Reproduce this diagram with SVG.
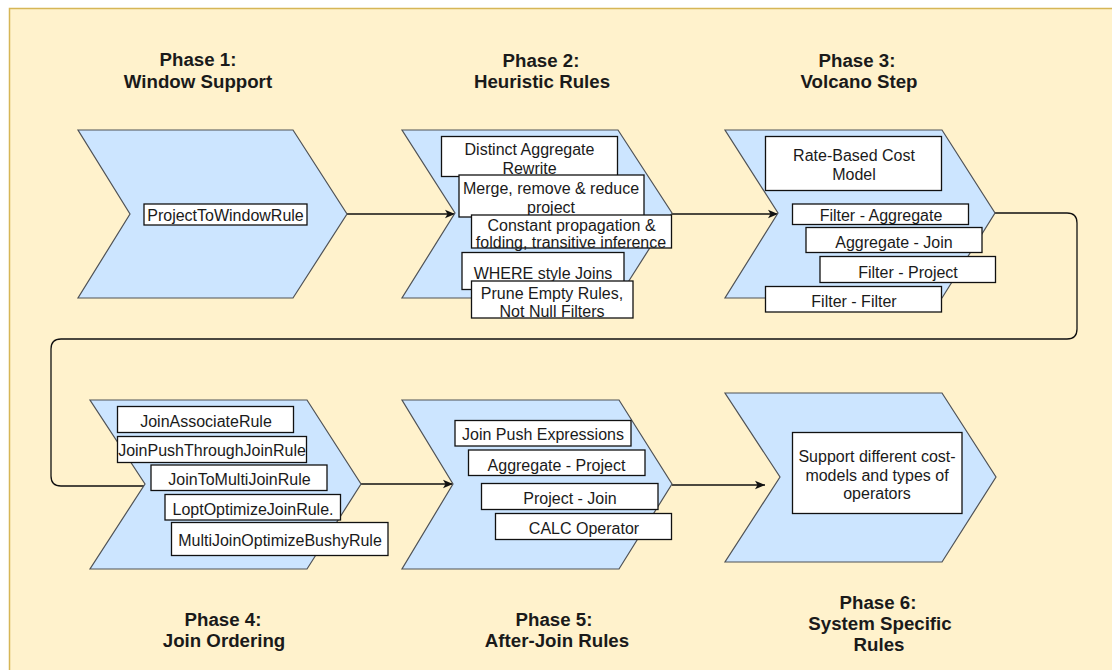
<svg xmlns="http://www.w3.org/2000/svg" width="1112" height="670" viewBox="0 0 1112 670">
  <style>
    .step { fill: #cce5ff; stroke: #4f5256; stroke-width: 1.2; }
    .box { fill: #ffffff; stroke: #111111; stroke-width: 1.3; }
    .rule { font-family: "Liberation Sans", Arial, sans-serif; font-size: 16px; fill: #1a1a1a; text-anchor: middle; }
    .title { font-family: "Liberation Sans", Arial, sans-serif; font-size: 18.7px; font-weight: bold; fill: #1a1a1a; text-anchor: middle; }
    .link { fill: none; stroke: #111111; stroke-width: 1.3; }
  </style>
  <defs>
    <marker id="arrow" markerWidth="11" markerHeight="11" refX="10" refY="5" orient="auto" markerUnits="userSpaceOnUse">
      <path d="M0,0.8 L10,5 L0,9.2 L2.5,5 z" fill="#111111"/>
    </marker>
  </defs>

  <!-- canvas -->
  <rect x="9.5" y="8.5" width="1110" height="670" fill="#fff2cc" stroke="#d6b656" stroke-width="1.5"/>

  <!-- phase titles -->
  <g id="titles">
    <text class="title" x="198" y="66">Phase 1:</text>
    <text class="title" x="198" y="88">Window Support</text>
    <text class="title" x="541" y="66.5">Phase 2:</text>
    <text class="title" x="542" y="88">Heuristic Rules</text>
    <text class="title" x="857" y="66.5">Phase 3:</text>
    <text class="title" x="859" y="88">Volcano Step</text>
    <text class="title" x="223" y="626">Phase 4:</text>
    <text class="title" x="224" y="647">Join Ordering</text>
    <text class="title" x="554" y="626">Phase 5:</text>
    <text class="title" x="557" y="647">After-Join Rules</text>
    <text class="title" x="878" y="609">Phase 6:</text>
    <text class="title" x="880" y="630">System Specific</text>
    <text class="title" x="879" y="651">Rules</text>
  </g>

  <!-- connectors -->
  <g id="connectors">
    <path class="link" d="M347,214 H455" marker-end="url(#arrow)"/>
    <path class="link" d="M672,214 H778" marker-end="url(#arrow)"/>
    <path class="link" d="M995,213 H1067 Q1077,213 1077,223 V329 Q1077,339 1067,339 H61 Q51,339 51,349 V476 Q51,486 61,486 H144"/>
    <path class="link" d="M361,484 H453" marker-end="url(#arrow)"/>
    <path class="link" d="M672,485 H765" marker-end="url(#arrow)"/>
  </g>

  <!-- Phase 1 -->
  <g id="phase1">
    <polygon class="step" points="78,130 293,130 347,214 293,298 78,298 130,214"/>
    <rect class="box" x="144" y="204" width="163" height="21"/>
    <text class="rule" x="225.5" y="221">ProjectToWindowRule</text>
  </g>

  <!-- Phase 2 -->
  <g id="phase2">
    <polygon class="step" points="402,130 618,130 672,213 618,298 402,298 455,213"/>
    <rect class="box" x="441.5" y="136.5" width="176" height="40"/>
    <text class="rule" x="529.5" y="155">Distinct Aggregate</text>
    <text class="rule" x="529.5" y="173.5">Rewrite</text>
    <rect class="box" x="459" y="175" width="185" height="42"/>
    <text class="rule" x="551" y="194">Merge, remove &amp; reduce</text>
    <text class="rule" x="551" y="212.5">project</text>
    <rect class="box" x="471.5" y="215" width="200" height="33"/>
    <text class="rule" x="571.5" y="231">Constant propagation &amp;</text>
    <text class="rule" x="571" y="248">folding, transitive inference</text>
    <rect class="box" x="462" y="252.5" width="162" height="37"/>
    <text class="rule" x="543" y="278.5">WHERE style Joins</text>
    <rect class="box" x="471.5" y="281" width="161.5" height="37"/>
    <text class="rule" x="552" y="299">Prune Empty Rules,</text>
    <text class="rule" x="552" y="316.5">Not Null Filters</text>
  </g>

  <!-- Phase 3 -->
  <g id="phase3">
    <polygon class="step" points="725,130 942,130 995,213 942,298 725,298 778,213"/>
    <rect class="box" x="765.5" y="136.5" width="176" height="54"/>
    <text class="rule" x="854" y="161">Rate-Based Cost</text>
    <text class="rule" x="854" y="180">Model</text>
    <rect class="box" x="792.5" y="204" width="176" height="20.5"/>
    <text class="rule" x="881" y="221">Filter - Aggregate</text>
    <rect class="box" x="806" y="227.5" width="176" height="25"/>
    <text class="rule" x="894" y="248">Aggregate - Join</text>
    <rect class="box" x="820" y="256.5" width="175.5" height="26"/>
    <text class="rule" x="908" y="277.5">Filter - Project</text>
    <rect class="box" x="765.5" y="286.5" width="176" height="25.5"/>
    <text class="rule" x="854" y="306.5">Filter - Filter</text>
  </g>

  <!-- Phase 4 -->
  <g id="phase4">
    <polygon class="step" points="90,400 307,400 361,484 307,569 90,569 145,484"/>
    <rect class="box" x="117.5" y="406.5" width="176" height="26"/>
    <text class="rule" x="206" y="427">JoinAssociateRule</text>
    <rect class="box" x="117.5" y="436.5" width="189" height="26"/>
    <text class="rule" x="212" y="456">JoinPushThroughJoinRule</text>
    <rect class="box" x="151" y="465" width="176" height="25.5"/>
    <text class="rule" x="239.5" y="485">JoinToMultiJoinRule</text>
    <rect class="box" x="165" y="494.5" width="175.5" height="25.5"/>
    <text class="rule" x="253" y="515">LoptOptimizeJoinRule.</text>
    <rect class="box" x="171.5" y="522.5" width="216.5" height="33"/>
    <text class="rule" x="280" y="546">MultiJoinOptimizeBushyRule</text>
  </g>

  <!-- Phase 5 -->
  <g id="phase5">
    <polygon class="step" points="402,400 619,400 672,484 619,569 402,569 453,484"/>
    <rect class="box" x="455" y="420.5" width="176" height="25.5"/>
    <text class="rule" x="543" y="440">Join Push Expressions</text>
    <rect class="box" x="468.5" y="450" width="176.5" height="25.5"/>
    <text class="rule" x="556.5" y="470.5">Aggregate - Project</text>
    <rect class="box" x="481.5" y="483.5" width="176.5" height="26"/>
    <text class="rule" x="570" y="504">Project - Join</text>
    <rect class="box" x="495.5" y="513.5" width="176" height="26"/>
    <text class="rule" x="584" y="533.5">CALC Operator</text>
  </g>

  <!-- Phase 6 -->
  <g id="phase6">
    <polygon class="step" points="725,393 942,393 996,477 942,562 725,562 780,477"/>
    <rect class="box" x="792.5" y="432.5" width="169.5" height="81"/>
    <text class="rule" x="877" y="461.5">Support different cost-</text>
    <text class="rule" x="877" y="480.5">models and types of</text>
    <text class="rule" x="877" y="499">operators</text>
  </g>
</svg>
